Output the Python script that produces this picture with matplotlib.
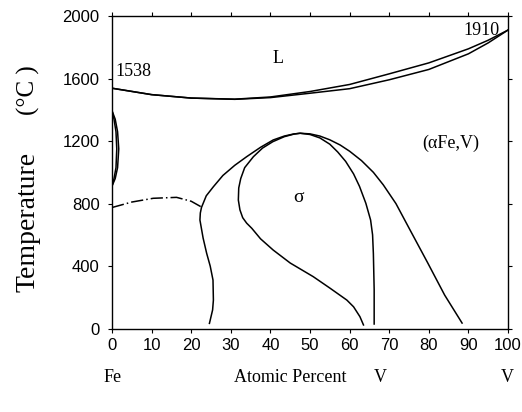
import numpy as np
import matplotlib.pyplot as plt

# liquidus / solidus
liq_x = [0, 10, 20, 31, 40, 50, 60, 70, 80, 90, 95, 100]
liq_t = [1538, 1497, 1475, 1468, 1482, 1517, 1562, 1630, 1700, 1790, 1845, 1910]
sol_x = [0, 10, 20, 31, 40, 50, 60, 70, 80, 90, 95, 100]
sol_t = [1538, 1497, 1475, 1467, 1478, 1506, 1535, 1592, 1658, 1758, 1828, 1910]

# gamma loop
gam_out_x = [0, 0.8, 1.4, 1.7, 1.4, 0.8, 0]
gam_out_t = [1394, 1340, 1260, 1150, 1030, 960, 912]
gam_in_x = [0, 0.5, 1.0, 1.2, 1.0, 0.5, 0]
gam_in_t = [1394, 1340, 1260, 1150, 1030, 960, 912]

# magnetic transition (dash-dot)
mag_x = [0, 5, 10.4, 16.3, 20, 22.6]
mag_t = [775, 810, 834, 840, 815, 778]

# alpha / (alpha+sigma) outer boundary
out_x = [24.6, 25.4, 25.6, 25.5, 24.8, 23.9, 23.0, 22.2, 22.3, 22.6, 23.8, 25.6, 28, 31, 34, 37.5, 40.7, 43.5, 45.8, 47.5,
         50, 52.5, 55, 57.6, 60, 63, 66, 68.5, 71.7, 75.5, 79.7, 84, 88.4]
out_t = [34, 120, 183, 311, 400, 482, 580, 695, 740, 776, 850, 908, 980, 1045, 1100, 1160, 1207, 1232, 1245, 1250,
         1246, 1232, 1208, 1175, 1135, 1075, 1000, 920, 800, 620, 422, 215, 36]

# sigma boundary
sig_x = [63.5, 62.6, 61, 59.3, 55, 50.8, 45, 40.7, 37.5, 35.3, 34.0, 33.0, 32.3, 31.9, 32.0, 32.5, 33.5, 35.7, 38, 40.6,
         43.5, 46, 47.5, 50, 52.5, 55, 57, 59, 61, 62.5, 64.1, 65.3, 65.8, 66.0, 66.2, 66.2]
sig_t = [24, 77, 140, 183, 260, 333, 420, 503, 575, 642, 675, 710, 760, 823, 900, 960, 1030, 1100, 1155, 1196,
         1228, 1245, 1250, 1242, 1220, 1180, 1130, 1070, 990, 910, 802, 695, 600, 480, 250, 30]

xticks = list(range(0, 101, 10))
yticks = [0, 400, 800, 1200, 1600, 2000]

fig = plt.figure(figsize=(5.22, 4.12), dpi=100)
ax = fig.add_axes([0.2146, 0.2022, 0.7586, 0.7590])

lw = 1.1
ax.plot(liq_x, liq_t, color='black', lw=lw)
ax.plot(sol_x, sol_t, color='black', lw=lw)
ax.plot(gam_out_x, gam_out_t, color='black', lw=lw)
ax.plot(gam_in_x, gam_in_t, color='black', lw=lw)
ax.plot(mag_x, mag_t, color='black', lw=lw, ls=(0, (8, 2, 1, 2)))
ax.plot(out_x, out_t, color='black', lw=lw)
ax.plot(sig_x, sig_t, color='black', lw=lw)

serif = 'Liberation Serif'
ax.text(41.9, 1731, 'L', fontsize=13, family=serif, ha='center', va='center')
ax.text(47, 842, 'σ', fontsize=14, family=serif, ha='center', va='center')
ax.text(85.6, 1188, '(αFe,V)', fontsize=13, family=serif, ha='center', va='center')
ax.text(0.8, 1642, '1538', fontsize=13, family=serif, ha='left', va='center')
ax.text(93.4, 1904, '1910', fontsize=13, family=serif, ha='center', va='center')

ax.set_xlim(0, 100)
ax.set_ylim(0, 2000)
ax.set_xticks(xticks)
ax.set_yticks(yticks)
for lab in ax.get_xticklabels() + ax.get_yticklabels():
    lab.set_family('Liberation Sans')
    lab.set_fontsize(12)
ax.tick_params(axis='both', direction='out', length=3, width=0.8, pad=4)
ax.tick_params(axis='y', pad=6)
ax.tick_params(top=True, right=True)
for sp in ax.spines.values():
    sp.set_linewidth(1.0)

fig.text(28 / 522, 1 - 222 / 412, 'Temperature', rotation=90, fontsize=20, family=serif,
         ha='center', va='center')
fig.text(28 / 522, 1 - 90 / 412, '(°C )', rotation=90, fontsize=18, family=serif,
         ha='center', va='center')
fig.text(113 / 522, 1 - 378 / 412, 'Fe', fontsize=13, family=serif, ha='center', va='center')
fig.text(290 / 522, 1 - 378 / 412, 'Atomic Percent', fontsize=13, family=serif, ha='center', va='center')
fig.text(380 / 522, 1 - 378 / 412, 'V', fontsize=13, family=serif, ha='center', va='center')
fig.text(507 / 522, 1 - 377 / 412, 'V', fontsize=13, family=serif, ha='center', va='center')

fig.savefig('out.png', dpi=100)
